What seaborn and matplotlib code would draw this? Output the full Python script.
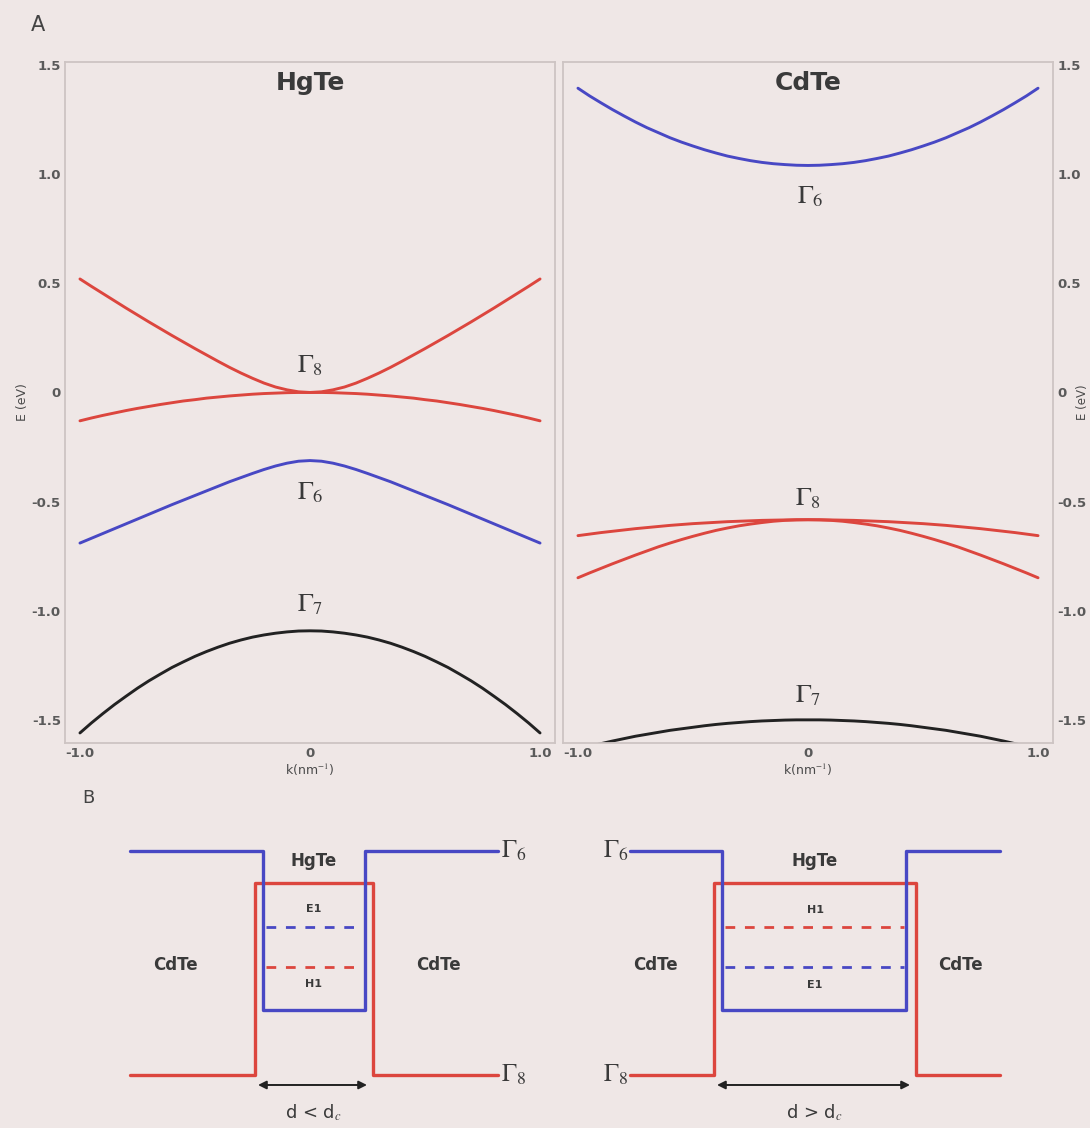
import numpy as np
import pandas as pd
import matplotlib
matplotlib.use('Agg')
import matplotlib.pyplot as plt
import seaborn as sns

# ---- panel A: band dispersions (k in nm^-1, E in eV)
k = [-1.0, -0.95, -0.9, -0.85, -0.8, -0.75, -0.7, -0.65, -0.6, -0.55, -0.5,
     -0.45, -0.4, -0.35, -0.3, -0.25, -0.2, -0.15, -0.1, -0.05, 0.0,
     0.05, 0.1, 0.15, 0.2, 0.25, 0.3, 0.35, 0.4, 0.45, 0.5,
     0.55, 0.6, 0.65, 0.7, 0.75, 0.8, 0.85, 0.9, 0.95, 1.0]

hg_g8_up = [0.52, 0.486, 0.453, 0.42, 0.387, 0.355, 0.323, 0.292, 0.261, 0.231, 0.201,
            0.172, 0.143, 0.115, 0.089, 0.065, 0.043, 0.025, 0.012, 0.003, 0.0,
            0.003, 0.012, 0.025, 0.043, 0.065, 0.089, 0.115, 0.143, 0.172, 0.201,
            0.231, 0.261, 0.292, 0.323, 0.355, 0.387, 0.42, 0.453, 0.486, 0.52]
hg_g8_dn = [-0.13, -0.117, -0.105, -0.094, -0.083, -0.073, -0.064, -0.055, -0.047, -0.039, -0.033,
            -0.026, -0.021, -0.016, -0.012, -0.008, -0.005, -0.003, -0.001, 0.0, 0.0,
            0.0, -0.001, -0.003, -0.005, -0.008, -0.012, -0.016, -0.021, -0.026, -0.033,
            -0.039, -0.047, -0.055, -0.064, -0.073, -0.083, -0.094, -0.105, -0.117, -0.13]
hg_g6 = [-0.69, -0.668, -0.646, -0.624, -0.602, -0.58, -0.558, -0.536, -0.514, -0.493, -0.472,
         -0.451, -0.43, -0.409, -0.39, -0.371, -0.353, -0.337, -0.324, -0.315, -0.312,
         -0.315, -0.324, -0.337, -0.353, -0.371, -0.39, -0.409, -0.43, -0.451, -0.472,
         -0.493, -0.514, -0.536, -0.558, -0.58, -0.602, -0.624, -0.646, -0.668, -0.69]
hg_g7 = [-1.56, -1.514, -1.471, -1.43, -1.392, -1.355, -1.321, -1.29, -1.26, -1.234, -1.209,
         -1.187, -1.167, -1.149, -1.134, -1.121, -1.111, -1.103, -1.097, -1.093, -1.092,
         -1.093, -1.097, -1.103, -1.111, -1.121, -1.134, -1.149, -1.167, -1.187, -1.209,
         -1.234, -1.26, -1.29, -1.321, -1.355, -1.392, -1.43, -1.471, -1.514, -1.56]

cd_g6 = [1.394, 1.359, 1.327, 1.296, 1.267, 1.239, 1.213, 1.19, 1.167, 1.147, 1.129,
         1.112, 1.097, 1.083, 1.072, 1.062, 1.054, 1.048, 1.044, 1.041, 1.04,
         1.041, 1.044, 1.048, 1.054, 1.062, 1.072, 1.083, 1.097, 1.112, 1.129,
         1.147, 1.167, 1.19, 1.213, 1.239, 1.267, 1.296, 1.327, 1.359, 1.394]
cd_g8_hh = [-0.656, -0.649, -0.642, -0.636, -0.63, -0.624, -0.619, -0.614, -0.609, -0.605, -0.601,
            -0.598, -0.595, -0.592, -0.59, -0.588, -0.586, -0.585, -0.584, -0.583, -0.583,
            -0.583, -0.584, -0.585, -0.586, -0.588, -0.59, -0.592, -0.595, -0.598, -0.601,
            -0.605, -0.609, -0.614, -0.619, -0.624, -0.63, -0.636, -0.642, -0.649, -0.656]
cd_g8_lh = [-0.849, -0.827, -0.806, -0.785, -0.765, -0.745, -0.726, -0.707, -0.69, -0.674, -0.659,
            -0.645, -0.632, -0.621, -0.611, -0.603, -0.596, -0.59, -0.586, -0.584, -0.583,
            -0.584, -0.586, -0.59, -0.596, -0.603, -0.611, -0.621, -0.632, -0.645, -0.659,
            -0.674, -0.69, -0.707, -0.726, -0.745, -0.765, -0.785, -0.806, -0.827, -0.849]
cd_g7 = [-1.634, -1.621, -1.609, -1.597, -1.586, -1.575, -1.566, -1.557, -1.548, -1.541, -1.534,
         -1.527, -1.521, -1.516, -1.512, -1.508, -1.505, -1.503, -1.501, -1.5, -1.5,
         -1.5, -1.501, -1.503, -1.505, -1.508, -1.512, -1.516, -1.521, -1.527, -1.534,
         -1.541, -1.548, -1.557, -1.566, -1.575, -1.586, -1.597, -1.609, -1.621, -1.634]

ytick_vals = [-1.5, -1.0, -0.5, 0, 0.5, 1.0, 1.5]
ytick_labels = ['-1.5', '-1.0', '-0.5', '0', '0.5', '1.0', '1.5']
xtick_vals = [-1.0, 0, 1.0]
xtick_labels = ['-1.0', '0', '1.0']

# ---- panel B: quantum well schematic (arbitrary units, Γ8 barrier = 0, Γ6 barrier = 1)
b_e_g6 = [1.0, 1.0, 0.29, 0.29, 1.0, 1.0]
b_e_g8 = [0.0, 0.0, 0.857, 0.857, 0.0, 0.0]
thin_x_g6 = [-1.84, -0.51, -0.51, 0.51, 0.51, 1.84]
thin_x_g8 = [-1.84, -0.59, -0.59, 0.59, 0.59, 1.84]
thick_x_g6 = [-1.85, -0.93, -0.93, 0.91, 0.91, 1.85]
thick_x_g8 = [-1.85, -1.01, -1.01, 1.01, 1.01, 1.85]
thin_E1, thin_H1 = 0.66, 0.48
thick_H1, thick_E1 = 0.66, 0.48

# ---- style
bg = '#efe7e6'
red = '#dc463e'
blue = '#4848c4'
black = '#222222'
txt = '#3a3a3a'

sns.set_theme(style='white')
plt.rcParams['font.family'] = ['DejaVu Sans']
plt.rcParams['mathtext.fontset'] = 'stix'

fig = plt.figure(figsize=(10.9, 11.28), dpi=100, facecolor=bg)

rows = []
for panel, bands in [('HgTe', {'g8_up': hg_g8_up, 'g8_dn': hg_g8_dn, 'g6': hg_g6, 'g7': hg_g7}),
                     ('CdTe', {'g6': cd_g6, 'g8_up': cd_g8_hh, 'g8_dn': cd_g8_lh, 'g7': cd_g7})]:
    for name, vals in bands.items():
        for kk, ee in zip(k, vals):
            rows.append((panel, name, kk, ee))
df = pd.DataFrame(rows, columns=['panel', 'band', 'k', 'E'])
pal = {'g8_up': red, 'g8_dn': red, 'g6': blue, 'g7': black}

ax1 = fig.add_axes([65 / 1090, 1 - 743 / 1128, 490 / 1090, 681 / 1128])
ax2 = fig.add_axes([563 / 1090, 1 - 743 / 1128, 490 / 1090, 681 / 1128])
ax2.yaxis.tick_right()
ax2.yaxis.set_label_position('right')

for ax, panel in [(ax1, 'HgTe'), (ax2, 'CdTe')]:
    ax.set_facecolor(bg)
    sns.lineplot(data=df[df.panel == panel], x='k', y='E', hue='band', palette=pal,
                 estimator=None, sort=False, legend=False, lw=2.1, ax=ax)
    ax.set_xlim(-1.065, 1.065)
    ax.set_ylim(-1.606, 1.514)
    ax.set_xticks(xtick_vals)
    ax.set_xticklabels(xtick_labels, fontweight='bold')
    ax.set_yticks(ytick_vals)
    ax.set_yticklabels(ytick_labels, fontweight='bold')
    ax.tick_params(length=0, pad=3, labelsize=9.5, labelcolor='#5a5a5a')
    for sp in ax.spines.values():
        sp.set_color('#cdc4c3')
        sp.set_linewidth(1.3)
    ax.set_xlabel('k(nm$^{-1}$)', fontsize=9, color='#4a4a4a', labelpad=1)
    ax.set_ylabel('E (eV)', fontsize=9, color='#4a4a4a', labelpad=2)
    ax.text(0, 1.42, panel, ha='center', va='center', fontsize=18,
            fontweight='bold', color=txt)

# keep the right-hand axis label inside the figure edge
ax2.yaxis.set_label_coords(1.046, 0.5)
ax2.yaxis.label.set_fontsize(8.5)

gam = dict(ha='center', va='center', fontsize=19, color=txt)
ax1.text(0, 0.125, r'$\Gamma_8$', **gam)
ax1.text(0, -0.46, r'$\Gamma_6$', **gam)
ax1.text(0, -0.97, r'$\Gamma_7$', **gam)
ax2.text(0.01, 0.90, r'$\Gamma_6$', **gam)
ax2.text(0, -0.485, r'$\Gamma_8$', **gam)
ax2.text(0, -1.39, r'$\Gamma_7$', **gam)

fig.text(38 / 1090, 1 - 25 / 1128, 'A', fontsize=15, color='#444444', ha='center', va='center')
fig.text(88 / 1090, 1 - 798 / 1128, 'B', fontsize=13, color='#444444', ha='center', va='center')

# ---- panel B
bx1 = fig.add_axes([84 / 1090, 0, 460 / 1090, 308 / 1128])
bx2 = fig.add_axes([585 / 1090, 0, 460 / 1090, 308 / 1128])

specs = [
    (bx1, thin_x_g6, thin_x_g8, [(thin_E1, blue, 'E1', 0.74), (thin_H1, red, 'H1', 0.405)],
     'd < d$_c$', 'right', (-1.39, 1.24)),
    (bx2, thick_x_g6, thick_x_g8, [(thick_H1, red, 'H1', 0.737), (thick_E1, blue, 'E1', 0.40)],
     'd > d$_c$', 'left', (-1.6, 1.45)),
]
for ax, xg6, xg8, subs, dlabel, gside, cd_x in specs:
    ax.set_xlim(-2.3, 2.3)
    ax.set_ylim(-0.237, 1.138)
    ax.axis('off')
    sns.lineplot(x=xg8, y=b_e_g8, sort=False, estimator=None, color=red, lw=2.4, ax=ax)
    sns.lineplot(x=xg6, y=b_e_g6, sort=False, estimator=None, color=blue, lw=2.4, ax=ax)
    for lev, col, lab, ly in subs:
        sns.lineplot(x=[xg6[2] + 0.03, xg6[3] - 0.02], y=[lev, lev], color=col, lw=2.0,
                     ax=ax, linestyle=(0, (3.5, 3.5)))
        ax.text(0, ly, lab, ha='center', va='center', fontsize=8, fontweight='bold', color=txt)
    ax.annotate('', xy=(xg8[3] - 0.06, -0.045), xytext=(xg8[1] + 0.03, -0.045),
                arrowprops=dict(arrowstyle='<|-|>', color='#222222', lw=1.4,
                                mutation_scale=12, shrinkA=0, shrinkB=0))
    ax.text(0, -0.168, dlabel, ha='center', va='center', fontsize=13, color=txt)
    ax.text(0, 0.955, 'HgTe', ha='center', va='center', fontsize=12, fontweight='bold', color=txt)
    for cx in cd_x:
        ax.text(cx, 0.49, 'CdTe', ha='center', va='center', fontsize=12, fontweight='bold', color=txt)
    if gside == 'right':
        gx, gha = xg6[-1] + 0.03, 'left'
    else:
        gx, gha = xg6[0] - 0.02, 'right'
    ax.text(gx, b_e_g6[0], r'$\Gamma_6$', ha=gha, va='center', fontsize=18, color=txt)
    ax.text(gx, b_e_g8[0], r'$\Gamma_8$', ha=gha, va='center', fontsize=18, color=txt)

fig.savefig('out.png', dpi=100, facecolor=bg)
